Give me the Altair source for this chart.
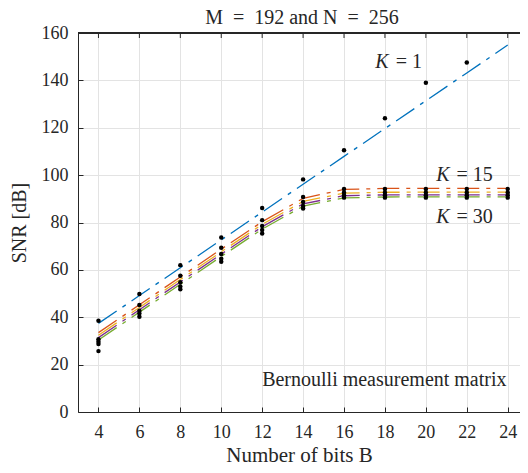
import altair as alt
import pandas as pd

# ---------------- data ----------------
bits = [4, 6, 8, 10, 12, 14, 16, 18, 20, 22, 24]
k_values = ["1", "15", "20", "25", "30"]
colors = ["#0072BD", "#D95319", "#EDB120", "#7E2F8E", "#77AC30"]

# theoretical curves (dash-dot lines)
line_k1 = [37.4, 49.15, 60.9, 72.65, 84.4, 96.15, 107.9, 119.65, 131.4, 143.15, 154.9]
line_k15 = [33.5, 45.25, 57.0, 68.74, 80.33, 90.18, 93.95, 94.37, 94.4, 94.4, 94.4]
line_k20 = [32.4, 44.15, 55.9, 67.64, 79.21, 88.89, 92.40, 92.77, 92.8, 92.8, 92.8]
line_k25 = [31.4, 43.15, 54.9, 66.64, 78.2, 87.85, 91.30, 91.67, 91.7, 91.7, 91.7]
line_k30 = [30.4, 42.15, 53.9, 65.64, 77.2, 86.89, 90.40, 90.77, 90.8, 90.8, 90.8]

# simulated points (black dots)
dots_k1 = [38.5, 49.8, 62.0, 73.7, 86.1, 98.2, 110.5, 124.0, 139.0, 147.5]
dots_k15 = [30.7, 45.2, 57.5, 69.3, 81.0, 90.8, 94.1, 94.1, 94.1, 94.1, 94.1]
dots_k20 = [29.7, 42.7, 54.8, 66.7, 78.5, 88.7, 92.7, 92.7, 92.7, 92.7, 92.7]
dots_k25 = [28.7, 41.6, 53.0, 64.7, 76.8, 87.0, 91.5, 91.5, 91.5, 91.5, 91.5]
dots_k30 = [25.7, 40.2, 51.8, 63.4, 75.4, 85.9, 90.5, 90.5, 90.5, 90.5, 90.5]

# annotations
k_label_x = [18.33, 21.3, 21.3]
k_label_y = [147.7, 100.0, 82.4]
k_label_eq = ["= 1", "= 15", "= 30"]
note_x = [17.97]
note_y = [13.5]
note_text = ["Bernoulli measurement matrix"]
title_text = ["M\u2002=\u2002192 and N\u2002=\u2002256"]

y_ticks = [0, 20, 40, 60, 80, 100, 120, 140, 160]

# ---------------- tables ----------------
rows = []
for k, vals in zip(k_values, [line_k1, line_k15, line_k20, line_k25, line_k30]):
    for b, v in zip(bits, vals):
        rows.append({"B": b, "K": k, "SNR": v})
lines_df = pd.DataFrame(rows)

rows = []
for k, vals in zip(k_values, [dots_k1, dots_k15, dots_k20, dots_k25, dots_k30]):
    for b, v in zip(bits, vals):
        rows.append({"B": b, "K": k, "SNR": v})
dots_df = pd.DataFrame(rows)

klab_df = pd.DataFrame({"B": k_label_x, "SNR": k_label_y, "eq": k_label_eq, "K": ["K"] * 3})
note_df = pd.DataFrame({"B": note_x, "SNR": note_y, "text": note_text})
title_df = pd.DataFrame({"text": title_text})
top_ticks_df = pd.DataFrame({"B": bits})

# ---------------- styling ----------------
FONT = "Liberation Serif"
TXT = "#262626"
W, H = 442, 379
xscale = alt.Scale(domain=[3, 24.6], nice=False, zero=False)
yscale = alt.Scale(domain=[0, 160], nice=False)
tick_in = {"expr": "-5"}

x_bottom = alt.Axis(
    orient="bottom",
    values=bits, grid=True, gridColor="#e3e3e3", gridWidth=1,
    domainColor=TXT, domainWidth=1, tickColor=TXT, tickSize=tick_in, tickWidth=1,
    labelPadding=16, labelFontSize=18, labelFont=FONT, labelColor=TXT,
    title="Number of bits B", titleFontSize=21, titleFont=FONT, titleColor=TXT,
    titleFontWeight="normal", titlePadding=3,
)
y_left = alt.Axis(
    orient="left",
    values=y_ticks, grid=True, gridColor="#e3e3e3", gridWidth=1,
    domainColor=TXT, domainWidth=1, tickColor=TXT, tickSize=tick_in, tickWidth=1,
    labelPadding=15, labelFontSize=18, labelFont=FONT, labelColor=TXT,
    title="SNR [dB]", titleFontSize=20, titleFont=FONT, titleColor=TXT,
    titleFontWeight="normal", titlePadding=12,
)

lines = alt.Chart(lines_df).mark_line(
    strokeWidth=1.3, strokeDash=[22, 7, 4, 7], clip=True
).encode(
    x=alt.X("B:Q", scale=xscale, axis=x_bottom),
    y=alt.Y("SNR:Q", scale=yscale, axis=y_left),
    color=alt.Color("K:N", scale=alt.Scale(domain=k_values, range=colors), legend=None),
    order=alt.Order("B:Q"),
    detail="K:N",
)

# top frame line and inward ticks on top
top_frame = alt.Chart(top_ticks_df).mark_rule(color=TXT, strokeWidth=1).encode(
    x=alt.value(0), x2=alt.value(W), y=alt.value(0)
)
top_ticks = alt.Chart(top_ticks_df).mark_rule(color=TXT, strokeWidth=1).encode(
    x=alt.X("B:Q", scale=xscale, axis=None), y=alt.value(0), y2=alt.value(5)
)

dots = alt.Chart(dots_df).mark_circle(size=20, color="black", opacity=1).encode(
    x=alt.X("B:Q", scale=xscale, axis=None),
    y=alt.Y("SNR:Q", scale=yscale, axis=None),
)

k_italic = alt.Chart(klab_df).mark_text(
    font=FONT, fontSize=20, fontStyle="italic", align="right", baseline="middle",
    dx=-3, color=TXT,
).encode(
    x=alt.X("B:Q", scale=xscale, axis=None),
    y=alt.Y("SNR:Q", scale=yscale, axis=None),
    text="K:N",
)
k_eq = alt.Chart(klab_df).mark_text(
    font=FONT, fontSize=20, align="left", baseline="middle", dx=4, color=TXT,
).encode(
    x=alt.X("B:Q", scale=xscale, axis=None),
    y=alt.Y("SNR:Q", scale=yscale, axis=None),
    text="eq:N",
)
note = alt.Chart(note_df).mark_text(
    font=FONT, fontSize=20, align="center", baseline="middle", color=TXT,
).encode(
    x=alt.X("B:Q", scale=xscale, axis=None),
    y=alt.Y("SNR:Q", scale=yscale, axis=None),
    text="text:N",
)

# chart title, drawn as a text mark above the plot frame
title = alt.Chart(title_df).mark_text(
    font=FONT, fontSize=20, align="center", baseline="alphabetic", color=TXT,
).encode(
    x=alt.value(224), y=alt.value(-9.5), text="text:N"
)

chart = alt.layer(
    lines, top_frame, top_ticks, dots, k_italic, k_eq, note, title
).resolve_axis(
    x="independent", y="independent"
).properties(
    width=W,
    height=H,
    padding={"left": 70, "top": 25, "right": 0, "bottom": 53},
    autosize=alt.AutoSizeParams(type="none"),
).configure_view(strokeWidth=0).configure(background="white")

chart.save("out.html", embed_options={"renderer": "svg", "actions": False})
